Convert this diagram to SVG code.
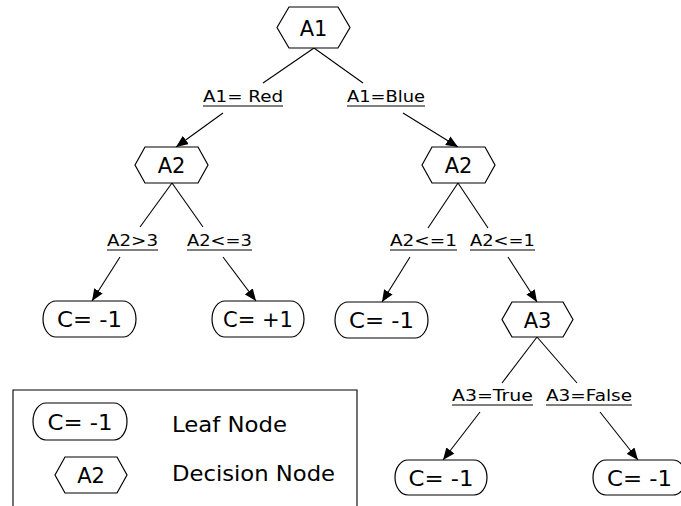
<svg xmlns="http://www.w3.org/2000/svg" width="681" height="506" viewBox="0 0 681 506">
  <style>
    .shape { fill: #fff; stroke: #000; stroke-width: 1.2; }
    .edge { stroke: #000; stroke-width: 1.1; fill: none; }
    .arrow { stroke: #000; stroke-width: 1.1; fill: none; marker-end: url(#head); }
    .name { font-family: "DejaVu Sans", "Liberation Sans", sans-serif; font-size: 21px; fill: #000; text-anchor: middle; }
    .cond { font-family: "DejaVu Sans", "Liberation Sans", sans-serif; font-size: 16px; fill: #000; }
    .uline { stroke: #000; stroke-width: 1.1; }
    .legend { font-family: "DejaVu Sans", "Liberation Sans", sans-serif; font-size: 21px; fill: #000; }
  </style>
  <defs>
    <marker id="head" viewBox="0 0 12 10" refX="12" refY="5" markerWidth="12" markerHeight="10" markerUnits="userSpaceOnUse" orient="auto">
      <path d="M0,0 L12,5 L0,10 Z" fill="#000"/>
    </marker>
  </defs>
  <rect width="681" height="506" fill="#fff"/>

  <!-- connectors: branch lines from decision nodes to condition labels, arrows from labels to children -->
  <g id="connectors">
    <line class="edge" x1="314" y1="48" x2="263" y2="83"/>
    <line class="edge" x1="314" y1="48" x2="363" y2="83"/>
    <line class="arrow" x1="223" y1="113" x2="176" y2="147"/>
    <line class="arrow" x1="403" y1="113" x2="458" y2="147"/>

    <line class="edge" x1="172" y1="183" x2="140" y2="227"/>
    <line class="edge" x1="172" y1="183" x2="203" y2="227"/>
    <line class="arrow" x1="120" y1="257" x2="92" y2="301"/>
    <line class="arrow" x1="223" y1="257" x2="256" y2="301"/>

    <line class="edge" x1="458" y1="183" x2="428" y2="228"/>
    <line class="edge" x1="458" y1="183" x2="488" y2="228"/>
    <line class="arrow" x1="410" y1="257" x2="382" y2="302"/>
    <line class="arrow" x1="508" y1="257" x2="537" y2="302"/>

    <line class="edge" x1="537" y1="337" x2="502" y2="383"/>
    <line class="edge" x1="537" y1="337" x2="577" y2="383"/>
    <line class="arrow" x1="480" y1="412" x2="443" y2="460"/>
    <line class="arrow" x1="600" y1="412" x2="638" y2="460"/>
  </g>

  <!-- condition labels -->
  <g id="labels">
    <text class="cond" x="203" y="102" textLength="80" lengthAdjust="spacingAndGlyphs">A1= Red</text>
    <line class="uline" x1="203" y1="106" x2="283" y2="106"/>
    <text class="cond" x="347" y="102" textLength="78" lengthAdjust="spacingAndGlyphs">A1=Blue</text>
    <line class="uline" x1="347" y1="106" x2="425" y2="106"/>

    <text class="cond" x="107" y="246" textLength="51" lengthAdjust="spacingAndGlyphs">A2&gt;3</text>
    <line class="uline" x1="107" y1="250" x2="158" y2="250"/>
    <text class="cond" x="187" y="246" textLength="65" lengthAdjust="spacingAndGlyphs">A2&lt;=3</text>
    <line class="uline" x1="187" y1="250" x2="252" y2="250"/>

    <text class="cond" x="390" y="246" textLength="67" lengthAdjust="spacingAndGlyphs">A2&lt;=1</text>
    <line class="uline" x1="390" y1="250" x2="457" y2="250"/>
    <text class="cond" x="470" y="246" textLength="65" lengthAdjust="spacingAndGlyphs">A2&lt;=1</text>
    <line class="uline" x1="470" y1="250" x2="535" y2="250"/>

    <text class="cond" x="452" y="401" textLength="81" lengthAdjust="spacingAndGlyphs">A3=True</text>
    <line class="uline" x1="452" y1="405" x2="533" y2="405"/>
    <text class="cond" x="546" y="401" textLength="86" lengthAdjust="spacingAndGlyphs">A3=False</text>
    <line class="uline" x1="546" y1="405" x2="632" y2="405"/>
  </g>

  <!-- decision nodes -->
  <g id="node-a1">
    <polygon class="shape" points="277,27.5 289,7 338,7 350,27.5 338,48 289,48"/>
    <text class="name" x="313.5" y="36">A1</text>
  </g>
  <g id="node-a2-left">
    <polygon class="shape" points="135,165 145,147 198,147 208,165 198,183 145,183"/>
    <text class="name" x="171.5" y="173">A2</text>
  </g>
  <g id="node-a2-right">
    <polygon class="shape" points="422,165 432,147 485,147 495,165 485,183 432,183"/>
    <text class="name" x="458.5" y="173">A2</text>
  </g>
  <g id="node-a3">
    <polygon class="shape" points="502,319.5 512,302 563,302 573,319.5 563,337 512,337"/>
    <text class="name" x="537.5" y="327.5">A3</text>
  </g>

  <!-- leaf nodes -->
  <g id="leaf-1">
    <rect class="shape" x="43" y="301" width="93" height="36" rx="13" ry="18"/>
    <text class="name" x="89.5" y="327" textLength="65" lengthAdjust="spacingAndGlyphs">C= -1</text>
  </g>
  <g id="leaf-2">
    <rect class="shape" x="212" y="301" width="92" height="36" rx="13" ry="18"/>
    <text class="name" x="258" y="327" textLength="70" lengthAdjust="spacingAndGlyphs">C= +1</text>
  </g>
  <g id="leaf-3">
    <rect class="shape" x="335" y="302" width="93" height="36" rx="13" ry="18"/>
    <text class="name" x="381.5" y="328" textLength="65" lengthAdjust="spacingAndGlyphs">C= -1</text>
  </g>
  <g id="leaf-4">
    <rect class="shape" x="395" y="460" width="92" height="35" rx="13" ry="17.5"/>
    <text class="name" x="441" y="485.5" textLength="65" lengthAdjust="spacingAndGlyphs">C= -1</text>
  </g>
  <g id="leaf-5">
    <rect class="shape" x="593" y="460" width="93" height="35" rx="13" ry="17.5"/>
    <text class="name" x="639.5" y="485.5" textLength="65" lengthAdjust="spacingAndGlyphs">C= -1</text>
  </g>

  <!-- legend -->
  <g id="legend">
    <polyline class="edge" points="13,506 13,390 357,390 357,506"/>
    <rect class="shape" x="33" y="403" width="94" height="37" rx="13" ry="18.5"/>
    <text class="name" x="80" y="429.5" textLength="65" lengthAdjust="spacingAndGlyphs">C= -1</text>
    <text class="legend" x="172" y="432" textLength="115" lengthAdjust="spacingAndGlyphs">Leaf Node</text>
    <polygon class="shape" points="55,475 65,457 117,457 127,475 117,493 65,493"/>
    <text class="name" x="91" y="483">A2</text>
    <text class="legend" x="172" y="481" textLength="163" lengthAdjust="spacingAndGlyphs">Decision Node</text>
  </g>
</svg>
